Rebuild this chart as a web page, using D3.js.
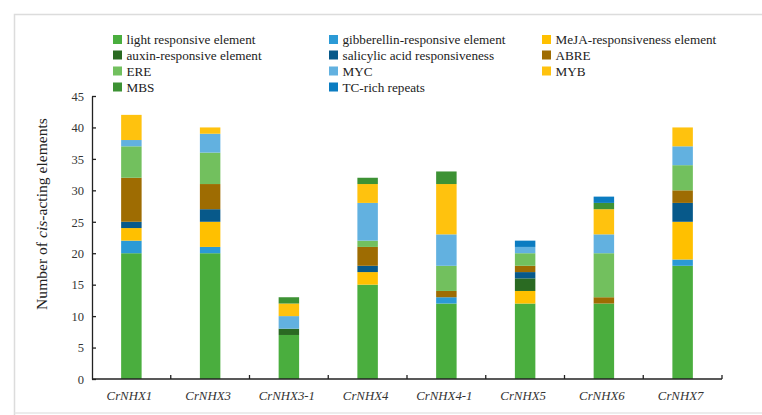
<!DOCTYPE html>
<html>
<head>
<meta charset="utf-8">
<script src="https://cdn.jsdelivr.net/npm/d3@7"></script>
<style>
  html, body { margin: 0; padding: 0; background: #fff; }
  svg { display: block; }
  svg text { font-family: 'Liberation Serif', 'Times New Roman', Times, serif; }
</style>
</head>
<body>
<svg id="chart" width="762" height="415"></svg>
<script>
// Genes on the x axis
const genes = ["CrNHX1", "CrNHX3", "CrNHX3-1", "CrNHX4", "CrNHX4-1", "CrNHX5", "CrNHX6", "CrNHX7"];

// Element classes, in stacking order (bottom to top)
const elements = [
  "light responsive element", "gibberellin-responsive element", "MeJA-responsiveness element",
  "auxin-responsive element", "salicylic acid responsiveness", "ABRE",
  "ERE", "MYC", "MYB",
  "MBS", "TC-rich repeats"
];
const elementColors = [
  "#4aae3e", "#2b9ad6", "#ffc000",
  "#2a6a22", "#07598a", "#9e6c02",
  "#72c05e", "#62b1e0", "#ffc20e",
  "#3d9234", "#0b7cc1"
];

// Counts per gene, one array per element class
const lightResponsive = [20, 20, 7, 15, 12, 12, 12, 18];
const gibberellin     = [2, 1, 0, 0, 1, 0, 0, 1];
const meja            = [2, 4, 0, 2, 0, 2, 0, 6];
const auxin           = [0, 0, 1, 0, 0, 2, 0, 0];
const salicylic       = [1, 2, 0, 1, 0, 1, 0, 3];
const abre            = [7, 4, 0, 3, 1, 1, 1, 2];
const ere             = [5, 5, 0, 1, 4, 2, 7, 4];
const myc             = [1, 3, 2, 6, 5, 1, 3, 3];
const myb             = [4, 1, 2, 3, 8, 0, 4, 3];
const mbs             = [0, 0, 1, 1, 2, 0, 1, 0];
const tcRich          = [0, 0, 0, 0, 0, 1, 1, 0];

const seriesValues = [lightResponsive, gibberellin, meja, auxin, salicylic, abre, ere, myc, myb, mbs, tcRich];
const yTicks = [0, 5, 10, 15, 20, 25, 30, 35, 40, 45];

const FONT = "'Liberation Serif', 'Times New Roman', Times, serif";

const rows = genes.map((g, i) => {
  const r = { gene: g };
  elements.forEach((e, k) => { r[e] = seriesValues[k][i]; });
  return r;
});

const svg = d3.select("#chart").attr("font-family", FONT);

// Light frame around the figure
svg.append("path")
  .attr("d", "M14.5,415 V14.5 H762")
  .attr("fill", "none").attr("stroke", "#dcdcdc").attr("stroke-width", 1.5);
svg.append("line")
  .attr("x1", 14.5).attr("x2", 762).attr("y1", 413).attr("y2", 413)
  .attr("stroke", "#e6e6e6").attr("stroke-width", 1.5);

const x = d3.scaleBand().domain(genes).range([92, 722]).paddingInner(0.74).paddingOuter(0.37);
const y = d3.scaleLinear().domain([0, 45]).range([379, 96]);

const stacked = d3.stack().keys(elements)(rows);
const color = d3.scaleOrdinal().domain(elements).range(elementColors);

svg.append("g").selectAll("g")
  .data(stacked).join("g")
  .attr("fill", d => color(d.key))
  .selectAll("rect")
  .data(d => d).join("rect")
  .attr("x", d => x(d.data.gene))
  .attr("width", x.bandwidth())
  .attr("y", d => y(d[1]))
  .attr("height", d => y(d[0]) - y(d[1]));

// Y axis, ticks inward
const yAxis = svg.append("g")
  .attr("transform", "translate(92,0)")
  .call(d3.axisLeft(y).tickValues(yTicks).tickSizeInner(-4).tickSizeOuter(0).tickPadding(0));
yAxis.attr("font-family", FONT);
yAxis.select(".domain").attr("stroke", "#222").attr("stroke-width", 1.3);
yAxis.selectAll(".tick line").attr("stroke", "#222").attr("stroke-width", 1.3);
yAxis.selectAll(".tick text")
  .attr("x", -8).attr("dy", "0.34em")
  .attr("font-size", 12.5).attr("fill", "#333")
  .style("font-family", FONT);

// X axis: boundary ticks between genes, pointing up
const xAxisG = svg.append("g");
xAxisG.append("line")
  .attr("x1", 92).attr("x2", 722).attr("y1", 379).attr("y2", 379)
  .attr("stroke", "#222").attr("stroke-width", 1.3);
const step = x.step();
xAxisG.selectAll("line.bt")
  .data(genes).join("line").attr("class", "bt")
  .attr("x1", (d, i) => 92 + step * (i + 1))
  .attr("x2", (d, i) => 92 + step * (i + 1))
  .attr("y1", 379).attr("y2", 375)
  .attr("stroke", "#222").attr("stroke-width", 1.3);
xAxisG.selectAll("text")
  .data(genes).join("text")
  .attr("x", d => x(d) + x.bandwidth() / 2 - 2)
  .attr("y", 400)
  .attr("text-anchor", "middle")
  .attr("font-size", 12.8).attr("font-style", "italic").attr("fill", "#333")
  .style("font-family", FONT)
  .text(d => d);

// Y axis title
const yt = svg.append("text")
  .attr("transform", "translate(47,214) rotate(-90)")
  .attr("text-anchor", "middle")
  .attr("font-size", 15.6).attr("fill", "#222")
  .style("font-family", FONT);
yt.append("tspan").text("Number of ");
yt.append("tspan").attr("font-style", "italic").text("cis");
yt.append("tspan").text("-acting elements");

// Legend, three columns
const colX = [113, 329, 542];
const rowY = [39.5, 55, 71, 87];
const legend = svg.append("g").selectAll("g")
  .data(elements).join("g")
  .attr("transform", (d, i) => `translate(${colX[i % 3]},${rowY[Math.floor(i / 3)]})`);
legend.append("rect")
  .attr("x", 0).attr("y", -4.5).attr("width", 9).attr("height", 9)
  .attr("fill", d => color(d));
legend.append("text")
  .attr("x", 13.5).attr("y", 4.5)
  .attr("font-size", 13.2).attr("fill", "#222")
  .style("font-family", FONT)
  .text(d => d);
</script>
</body>
</html>
